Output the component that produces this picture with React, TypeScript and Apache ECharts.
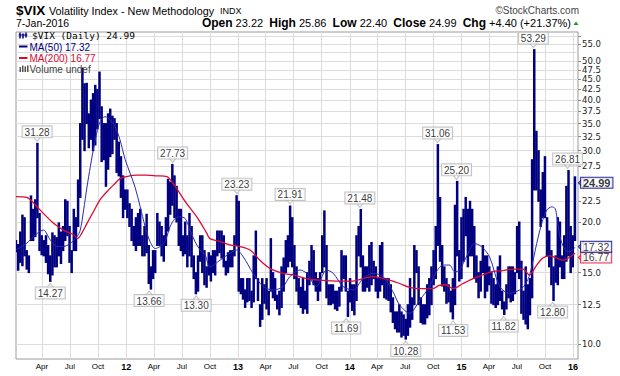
import React, { useEffect, useRef } from 'react';
import * as echarts from 'echarts';

// ---- weekly bars (Thursday of each week, from 2011-01-06) ----
const WEEK_START = '2011-01-06';
const high2011 = [18.0, 17.6, 18.9, 20.8, 20.5, 17.0, 16.5, 23.2, 21.5, 22.7, 31.28, 21.0, 18.5, 18.0, 18.5, 17.5, 16.5, 18.8, 18.5, 18.3, 19.9, 18.9, 19.5, 22.7, 22.5, 19.5, 17.0, 21.5, 20.5, 25.4, 35.0, 48.0, 43.9, 44.0, 37.0, 40.0, 41.5, 43.5, 42.5, 46.9, 38.5, 35.0, 35.0, 37.0, 38.0, 36.5, 36.0, 35.0, 31.5, 29.0, 26.0, 24.0];
const low2011 = [16.9, 15.2, 15.9, 15.6, 16.5, 15.3, 15.0, 18.0, 18.0, 18.4, 20.5, 17.0, 16.6, 16.5, 15.9, 14.9, 14.27, 14.8, 15.5, 15.5, 16.5, 15.8, 17.0, 18.0, 18.5, 15.9, 15.0, 17.0, 17.0, 19.5, 23.0, 32.0, 30.0, 35.0, 30.5, 32.0, 30.0, 31.0, 34.0, 36.0, 28.2, 28.5, 24.5, 27.0, 29.0, 29.5, 32.0, 26.5, 26.0, 23.0, 20.5, 21.5];
const high2012 = [24.0, 22.2, 21.5, 19.5, 20.5, 21.0, 21.5, 18.5, 19.5, 20.9, 17.5, 15.5, 17.0, 17.0, 21.0, 20.0, 19.5, 18.5, 20.5, 25.5, 25.1, 27.73, 26.0, 24.5, 21.5, 21.5, 18.5, 20.0, 18.5, 21.0, 19.5, 16.5, 15.0, 16.5, 18.5, 18.5, 17.0, 15.5, 16.8, 16.5, 17.0, 17.0, 19.0, 19.0, 19.0, 18.5, 16.0, 16.8, 17.0, 17.0, 18.5, 23.23];
const low2012 = [20.5, 19.5, 18.0, 17.5, 17.0, 17.5, 17.5, 16.5, 16.5, 16.8, 14.1, 13.66, 14.5, 15.0, 17.5, 17.5, 16.5, 16.0, 17.5, 19.0, 20.9, 22.0, 20.5, 20.0, 17.5, 17.0, 16.5, 16.7, 15.5, 16.5, 15.5, 14.5, 13.3, 13.5, 16.0, 15.0, 14.0, 13.8, 14.8, 14.3, 15.0, 14.8, 16.5, 16.8, 16.3, 15.5, 14.8, 15.0, 15.5, 15.5, 16.5, 17.5];
const high2013 = [22.5, 14.5, 14.5, 13.6, 14.5, 14.5, 13.5, 16.5, 19.0, 14.5, 12.5, 14.5, 14.0, 14.5, 13.5, 18.2, 15.0, 14.5, 13.2, 13.5, 15.5, 16.3, 18.0, 18.5, 21.91, 20.5, 17.5, 15.5, 14.5, 13.8, 14.5, 13.5, 15.0, 16.0, 17.5, 17.0, 15.0, 14.5, 15.0, 18.5, 21.3, 17.5, 14.0, 14.0, 14.0, 13.5, 13.5, 13.8, 17.0, 16.5, 16.5, 13.5];
const low2013 = [13.5, 13.3, 12.9, 12.3, 12.7, 12.8, 12.3, 12.7, 14.5, 12.8, 11.05, 11.5, 12.6, 12.2, 11.8, 13.5, 13.0, 12.8, 12.2, 11.8, 12.3, 13.5, 15.0, 15.5, 16.0, 15.5, 14.5, 13.5, 12.5, 12.3, 11.9, 12.2, 11.9, 14.0, 14.5, 14.0, 13.5, 12.8, 13.5, 15.0, 15.5, 13.0, 12.5, 12.5, 12.6, 12.2, 12.1, 12.4, 13.5, 14.5, 13.5, 11.69];
const high2014 = [14.5, 14.0, 14.0, 18.5, 19.5, 21.48, 16.5, 15.5, 15.5, 17.5, 17.8, 16.0, 15.5, 14.5, 17.5, 17.8, 14.5, 14.5, 14.5, 14.0, 13.0, 12.0, 12.0, 12.5, 12.0, 11.8, 11.5, 12.5, 14.5, 13.0, 17.5, 17.0, 15.5, 13.0, 12.5, 12.5, 14.0, 14.5, 15.5, 17.0, 19.5, 31.06, 23.0, 17.5, 15.5, 14.5, 14.0, 13.5, 14.5, 22.0, 25.2, 17.0];
const low2014 = [12.7, 12.1, 11.8, 12.8, 16.5, 15.5, 13.5, 13.5, 13.8, 13.5, 14.0, 14.5, 13.5, 13.0, 13.5, 14.0, 13.0, 12.9, 12.8, 12.0, 11.3, 10.9, 10.7, 10.7, 10.4, 10.5, 10.28, 10.5, 11.0, 11.5, 12.5, 15.0, 12.5, 11.3, 11.2, 11.2, 11.6, 11.8, 12.5, 14.0, 14.5, 17.5, 16.0, 13.9, 13.5, 12.6, 12.7, 12.0, 11.53, 12.5, 16.5, 14.3];
const high2015 = [20.5, 21.5, 23.0, 21.5, 22.5, 21.5, 19.5, 16.5, 15.0, 16.0, 17.5, 16.5, 16.5, 15.5, 15.0, 14.5, 14.0, 15.5, 16.5, 13.5, 12.7, 14.0, 15.5, 15.5, 15.5, 15.0, 19.5, 20.0, 16.0, 13.5, 15.5, 14.0, 14.5, 28.5, 53.29, 33.5, 30.0, 24.0, 26.5, 29.0, 20.5, 19.0, 17.0, 15.5, 16.5, 20.5, 20.0, 16.5, 18.5, 24.5, 26.81, 19.5];
const low2015 = [14.5, 16.0, 18.5, 15.5, 16.5, 16.5, 14.5, 14.2, 13.0, 13.5, 15.0, 13.0, 13.5, 14.0, 12.6, 12.5, 12.3, 12.5, 12.8, 12.2, 11.82, 12.2, 13.0, 12.7, 12.8, 13.3, 15.0, 14.5, 11.9, 11.5, 11.2, 10.9, 11.8, 13.0, 24.0, 24.0, 22.5, 19.5, 20.5, 20.5, 16.5, 15.5, 14.0, 12.8, 14.2, 14.0, 15.5, 14.5, 14.5, 16.0, 16.5, 15.0];
const high2016 = [18.5, 25.86];
const low2016 = [15.5, 18.0];

// ---- moving averages ----
const ma50: [string, number][] = [
  ['2011-01-06', 17.1], ['2011-02-05', 17.6], ['2011-03-16', 18.75], ['2011-04-06', 19.1], ['2011-04-28', 18.06],
  ['2011-05-20', 17.4], ['2011-06-10', 17.4], ['2011-07-02', 17.7], ['2011-07-24', 18.4], ['2011-08-04', 19.1],
  ['2011-08-15', 21.4], ['2011-08-26', 24.4], ['2011-09-06', 27.4], ['2011-09-22', 31.9], ['2011-10-08', 35.4],
  ['2011-10-24', 36.4], ['2011-11-10', 35.7], ['2011-11-26', 34.4], ['2011-12-12', 31.9], ['2011-12-29', 28.5],
  ['2012-01-14', 26.4], ['2012-01-30', 24.4], ['2012-02-16', 21.8], ['2012-03-03', 19.5], ['2012-03-19', 17.9],
  ['2012-04-05', 17.2], ['2012-04-21', 17.4], ['2012-05-07', 17.9], ['2012-05-24', 19.5], ['2012-06-09', 20.4],
  ['2012-06-25', 20.6], ['2012-07-12', 20.4], ['2012-07-28', 19.1], ['2012-08-13', 17.9], ['2012-08-30', 17.06],
  ['2012-09-15', 16.6], ['2012-10-01', 15.5], ['2012-11-03', 16.1], ['2012-12-05', 16.75], ['2012-12-27', 17.06],
  ['2013-01-18', 16.4], ['2013-02-19', 14.94], ['2013-03-24', 13.86], ['2013-04-26', 13.59], ['2013-05-28', 13.86],
  ['2013-06-19', 14.66], ['2013-07-22', 15.22], ['2013-08-13', 14.94], ['2013-09-14', 13.86], ['2013-10-17', 15.22],
  ['2013-11-08', 14.94], ['2013-12-10', 13.86], ['2014-01-12', 13.59], ['2014-02-13', 14.5], ['2014-03-18', 14.94],
  ['2014-04-20', 14.66], ['2014-05-22', 13.46], ['2014-06-13', 12.48], ['2014-07-16', 11.9], ['2014-08-18', 12.84],
  ['2014-09-19', 13.86], ['2014-10-11', 15.07], ['2014-11-02', 15.66], ['2014-11-23', 15.66], ['2014-12-10', 15.07],
  ['2014-12-26', 15.22], ['2015-01-17', 16.4], ['2015-02-13', 17.7], ['2015-03-07', 17.4], ['2015-04-03', 16.4],
  ['2015-05-06', 13.86], ['2015-06-07', 13.34], ['2015-07-10', 13.59], ['2015-07-28', 14.0], ['2015-08-13', 14.9],
  ['2015-09-04', 17.7], ['2015-09-21', 19.9], ['2015-10-07', 21.4], ['2015-10-23', 21.8], ['2015-11-03', 21.6],
  ['2015-11-09', 20.6], ['2015-11-19', 18.4], ['2015-12-06', 17.06], ['2015-12-22', 16.9], ['2016-01-07', 17.32],
];
const ma200: [string, number][] = [
  ['2011-01-06', 23.1], ['2011-02-10', 23.0], ['2011-02-22', 22.7], ['2011-03-26', 21.4], ['2011-05-09', 19.85],
  ['2011-06-10', 19.1], ['2011-07-13', 18.6], ['2011-07-26', 18.2], ['2011-08-06', 18.6], ['2011-08-26', 19.85],
  ['2011-09-16', 21.2], ['2011-10-08', 22.7], ['2011-10-30', 23.75], ['2011-11-21', 24.7], ['2011-12-12', 25.6],
  ['2012-01-03', 25.9], ['2012-02-05', 26.1], ['2012-03-08', 26.1], ['2012-04-10', 26.0], ['2012-05-13', 25.9],
  ['2012-06-03', 24.9], ['2012-06-25', 23.5], ['2012-07-17', 22.2], ['2012-08-19', 20.6], ['2012-09-20', 18.8],
  ['2012-10-01', 18.2], ['2012-11-03', 17.9], ['2012-12-05', 17.56], ['2013-01-07', 17.4], ['2013-02-09', 17.06],
  ['2013-03-13', 16.1], ['2013-04-15', 15.37], ['2013-05-28', 14.94], ['2013-06-30', 14.8], ['2013-08-13', 14.5],
  ['2013-09-25', 14.38], ['2013-11-29', 14.3], ['2014-01-12', 14.3], ['2014-02-13', 14.5], ['2014-03-18', 14.66],
  ['2014-04-20', 14.5], ['2014-05-22', 14.3], ['2014-06-13', 14.1], ['2014-07-16', 13.8], ['2014-08-18', 13.7],
  ['2014-09-30', 13.7], ['2014-10-20', 13.95], ['2014-11-10', 14.0], ['2014-12-05', 13.7], ['2015-01-06', 14.1],
  ['2015-02-08', 14.5], ['2015-03-12', 14.8], ['2015-04-14', 15.1], ['2015-05-16', 15.17], ['2015-06-18', 15.3],
  ['2015-07-21', 15.3], ['2015-08-11', 14.8], ['2015-09-04', 15.66], ['2015-09-24', 16.3], ['2015-10-16', 16.5],
  ['2015-11-07', 16.3], ['2015-11-28', 16.1], ['2015-12-22', 16.4], ['2016-01-07', 16.77],
];

// ---- labelled extremes ----
const peakDates = ['2011-03-16', '2011-04-28', '2012-03-16', '2012-06-01', '2012-08-17', '2012-12-28', '2013-06-20', '2013-12-20', '2014-02-03', '2014-07-03', '2014-10-15', '2014-12-05', '2014-12-16', '2015-05-19', '2015-08-24', '2015-10-26', '2015-12-14'];
const peakValues = [31.28, 14.27, 13.66, 27.73, 13.3, 23.23, 21.91, 11.69, 21.48, 10.28, 31.06, 11.53, 25.2, 11.82, 53.29, 12.8, 26.81];
const peakSides = ['top', 'bottom', 'bottom', 'top', 'bottom', 'top', 'top', 'bottom', 'top', 'bottom', 'top', 'bottom', 'top', 'bottom', 'top', 'bottom', 'top'];

// ---- axis ticks (25.0 and 17.5 sit under the value tags) ----
const yTickValues = [10, 12.5, 15, 17.5, 20, 22.5, 25, 27.5, 30, 32.5, 35, 37.5, 40, 42.5, 45, 47.5, 50, 52.5, 55, 57.5];
const yLabelValues = [10, 12.5, 15, 20, 22.5, 27.5, 30, 32.5, 35, 37.5, 40, 42.5, 45, 47.5, 50, 52.5, 55];
const monthNames = ['Jan', 'Feb', 'Mar', 'Apr', 'May', 'Jun', 'Jul', 'Aug', 'Sep', 'Oct', 'Nov', 'Dec'];
const lastClose = 24.99;
const lastMa50 = 17.32;
const lastMa200 = 16.77;
const LAST_DATE = '2016-01-07';

const ts = (s: string) => {
  const [y, m, d] = s.split('-').map(Number);
  return Date.UTC(y, m - 1, d);
};

const NAVY = '#000080';
const RED = '#dc0a32';

export default function App() {
  const ref = useRef<HTMLDivElement>(null);
  useEffect(() => {
    if (!ref.current) return;
    const chart = echarts.init(ref.current, null, { renderer: 'svg' });

    const highs = [...high2011, ...high2012, ...high2013, ...high2014, ...high2015, ...high2016];
    const lows = [...low2011, ...low2012, ...low2013, ...low2014, ...low2015, ...low2016];
    const t0 = ts(WEEK_START);
    const bars = highs.map((h, i) => [t0 + i * 7 * 86400000, lows[i], h]);

    const xMin = ts('2011-01-06');
    const xMax = ts('2016-01-17');
    const quarterTicks: number[] = [];
    for (let y = 2011; y <= 2016; y++) {
      for (const m of [0, 3, 6, 9]) {
        const t = Date.UTC(y, m, 1);
        if (t > xMin && t < xMax) quarterTicks.push(t);
      }
    }
    const lastT = ts(LAST_DATE);

    const peakData = peakDates.map((d, i) => ({
      value: [ts(d), peakValues[i]],
      label: { position: peakSides[i] },
    }));
    const ptrHigh = peakDates.map((d, i) => (peakSides[i] === 'top' ? [ts(d), peakValues[i]] : null)).filter(Boolean);
    const ptrLow = peakDates.map((d, i) => (peakSides[i] === 'bottom' ? [ts(d), peakValues[i]] : null)).filter(Boolean);

    const tagLabel = (color: string, bold: boolean, dy: number) => ({
      show: true,
      position: 'right',
      distance: 6,
      offset: [0, dy],
      formatter: (p: any) => p.value[1].toFixed(2),
      fontSize: bold ? 11 : 10.5,
      lineHeight: 10,
      fontWeight: bold ? 'bold' : 'normal',
      fontFamily: 'Arial',
      color: '#000',
      backgroundColor: '#fff',
      borderColor: color,
      borderWidth: 1,
      padding: [0, 2, 0, 2],
    });
    const arrow = (color: string, v: number, dy: number) => ({
      type: 'scatter',
      data: [[lastT, v]],
      symbol: 'path://M0,5L6,0L6,10Z',
      symbolSize: [5, 10],
      symbolOffset: [6, dy],
      itemStyle: { color: '#fff', borderColor: color, borderWidth: 1 },
      clip: false,
      silent: true,
      z: 5,
    });

    const G = 100;
    const option: any = {
      animation: false,
      backgroundColor: '#fff',
      grid: { left: 16, right: 42, top: 32, bottom: 17, show: true, borderColor: '#9a9a9a', borderWidth: 1 },
      xAxis: {
        type: 'value',
        min: xMin,
        max: xMax,
        axisLine: { show: false },
        axisTick: { show: false, customValues: quarterTicks },
        splitLine: { show: true, lineStyle: { color: '#dcdcdc', width: 1 } },
        axisLabel: {
          customValues: quarterTicks,
          margin: 3,
          fontSize: 8,
          fontFamily: 'Arial',
          color: '#000',
          formatter: (v: number) => {
            const d = new Date(v);
            const m = d.getUTCMonth();
            if (m === 0) return '{y|' + String(d.getUTCFullYear()).slice(2) + '}';
            return monthNames[m];
          },
          rich: { y: { fontSize: 9, fontWeight: 'bold', fontFamily: 'Arial', color: '#000' } },
        },
      },
      yAxis: {
        type: 'log',
        logBase: 10,
        position: 'right',
        min: 9.18,
        max: 58.9,
        axisLine: { show: false },
        axisTick: { show: true, customValues: yTickValues, length: 3, lineStyle: { color: '#888' } },
        splitLine: { show: true, lineStyle: { color: '#dcdcdc', width: 1 } },
        axisLabel: {
          customValues: yLabelValues,
          showMaxLabel: true,
          showMinLabel: true,
          formatter: (v: number) => v.toFixed(1),
          fontSize: 8.5,
          lineHeight: 8,
          fontFamily: 'DejaVu Sans',
          color: '#222',
          margin: 4,
        },
      },
      series: [
        {
          type: 'custom',
          name: 'VIX',
          data: bars,
          encode: { x: 0, y: [1, 2] },
          clip: true,
          renderItem: (params: any, api: any) => {
            const x = api.value(0);
            const p1 = api.coord([x, api.value(1)]);
            const p2 = api.coord([x, api.value(2)]);
            return {
              type: 'line',
              shape: { x1: p1[0], y1: p1[1] + 0.5, x2: p2[0], y2: p2[1] - 0.5 },
              style: { stroke: NAVY, lineWidth: 2.5 },
            };
          },
          z: 2,
        },
        {
          type: 'line',
          name: 'MA(200)',
          data: ma200.map(([d, v]) => [ts(d), v]),
          showSymbol: false,
          smooth: 0.3,
          lineStyle: { color: RED, width: 1.3 },
          z: 3,
        },
        {
          type: 'line',
          name: 'MA(50)',
          data: ma50.map(([d, v]) => [ts(d), v]),
          showSymbol: false,
          smooth: 0.3,
          lineStyle: { color: '#2a2ab0', width: 1 },
          z: 3,
        },
        {
          type: 'scatter',
          data: ptrHigh,
          symbol: 'path://M0,0L5,6L10,0Z',
          symbolSize: [8, 5],
          symbolOffset: [0, -4.5],
          itemStyle: { color: '#fff', borderColor: '#b4b4b4', borderWidth: 1 },
          silent: true,
          z: 4,
        },
        {
          type: 'scatter',
          data: ptrLow,
          symbol: 'path://M0,6L5,0L10,6Z',
          symbolSize: [8, 5],
          symbolOffset: [0, 4.5],
          itemStyle: { color: '#fff', borderColor: '#b4b4b4', borderWidth: 1 },
          silent: true,
          z: 4,
        },
        {
          type: 'scatter',
          data: peakData,
          symbolSize: 0,
          silent: true,
          z: 5,
          label: {
            show: true,
            distance: 6,
            formatter: (p: any) => p.value[1].toFixed(2),
            fontSize: 10,
            fontFamily: 'Arial',
            color: '#000',
            backgroundColor: '#fff',
            borderColor: '#b4b4b4',
            borderWidth: 1,
            padding: [1, 2, 0, 2],
          },
        },
        arrow(RED, lastMa200, 4.5),
        { type: 'scatter', data: [[lastT, lastMa200]], symbolSize: 0, silent: true, clip: false, z: 6, label: tagLabel(RED, false, 4.5) },
        arrow(NAVY, lastMa50, -0.5),
        { type: 'scatter', data: [[lastT, lastMa50]], symbolSize: 0, silent: true, clip: false, z: 7, label: tagLabel(NAVY, false, -0.5) },
        arrow(NAVY, lastClose, 0),
        { type: 'scatter', data: [[lastT, lastClose]], symbolSize: 0, silent: true, clip: false, z: 7, label: tagLabel(NAVY, true, 0) },
      ],
      graphic: [
        { type: 'text', z: G, x: 16, y: 10, style: { text: '$VIX', fontSize: 13.5, fontWeight: 'bold', fontFamily: 'Arial', fill: '#000', verticalAlign: 'middle' } },
        { type: 'text', z: G, x: 49, y: 10.5, style: { text: 'Volatility Index - New Methodology', fontSize: 10.8, fontFamily: 'Arial', fill: '#000', verticalAlign: 'middle' } },
        { type: 'text', z: G, x: 220, y: 11, style: { text: 'INDX', fontSize: 9, fontFamily: 'Arial', fill: '#000', verticalAlign: 'middle' } },
        { type: 'text', z: G, x: 16, y: 23, style: { text: '7-Jan-2016', fontSize: 10.5, fontFamily: 'Arial', fill: '#000', verticalAlign: 'middle' } },
        {
          type: 'text', z: G, x: 571, y: 23,
          style: {
            text: '{b|Open} 23.22  {b|High} 25.86  {b|Low} 22.40  {b|Close} 24.99  {b|Chg} +4.40 (+21.37%)',
            fontSize: 11, fontFamily: 'Arial', fill: '#000', align: 'right', verticalAlign: 'middle',
            rich: { b: { fontSize: 12, fontWeight: 'bold', fontFamily: 'Arial', fill: '#000' } },
          },
        },
        { type: 'polygon', z: G, shape: { points: [[573.5, 25], [578.5, 25], [576, 21.5]] }, style: { fill: '#1f9a1f' } },
        { type: 'text', z: G, x: 579, y: 10, style: { text: '\u00a9StockCharts.com', fontSize: 10, fontFamily: 'Arial', fill: '#444', align: 'right', verticalAlign: 'middle' } },
        // legend
        { type: 'line', z: G, shape: { x1: 20, y1: 32.5, x2: 20, y2: 38.5 }, style: { stroke: NAVY, lineWidth: 1.5 } },
        { type: 'line', z: G, shape: { x1: 23, y1: 33.5, x2: 23, y2: 38.5 }, style: { stroke: NAVY, lineWidth: 1.5 } },
        { type: 'line', z: G, shape: { x1: 26, y1: 32.5, x2: 26, y2: 37.5 }, style: { stroke: NAVY, lineWidth: 1.5 } },
        { type: 'line', z: G, shape: { x1: 18.5, y1: 35, x2: 27.5, y2: 35 }, style: { stroke: NAVY, lineWidth: 1 } },
        { type: 'text', z: G, x: 32, y: 35.5, style: { text: '$VIX (Daily) 24.99', fontSize: 9.5, fontFamily: 'DejaVu Sans Mono', fill: '#000', verticalAlign: 'middle' } },
        { type: 'line', z: G, shape: { x1: 19, y1: 46.5, x2: 27.5, y2: 46.5 }, style: { stroke: NAVY, lineWidth: 2 } },
        { type: 'text', z: G, x: 29.5, y: 47, style: { text: 'MA(50) 17.32', fontSize: 10, fontFamily: 'Arial', fill: NAVY, verticalAlign: 'middle' } },
        { type: 'line', z: G, shape: { x1: 19, y1: 58, x2: 27.5, y2: 58 }, style: { stroke: RED, lineWidth: 2 } },
        { type: 'text', z: G, x: 29.5, y: 58.5, style: { text: 'MA(200) 16.77', fontSize: 10, fontFamily: 'Arial', fill: RED, verticalAlign: 'middle' } },
        { type: 'rect', z: G, shape: { x: 19.5, y: 67, width: 1.5, height: 5 }, style: { fill: '#555' } },
        { type: 'rect', z: G, shape: { x: 22, y: 65.5, width: 1.5, height: 6.5 }, style: { fill: '#555' } },
        { type: 'rect', z: G, shape: { x: 24.5, y: 66.5, width: 1.5, height: 5.5 }, style: { fill: '#555' } },
        { type: 'rect', z: G, shape: { x: 27, y: 65.5, width: 1.5, height: 6.5 }, style: { fill: '#555' } },
        { type: 'text', z: G, x: 29.5, y: 69, style: { text: 'Volume undef', fontSize: 10, fontFamily: 'Arial', fill: '#444', verticalAlign: 'middle' } },
      ],
    };
    chart.setOption(option);
    return () => chart.dispose();
  }, []);
  return <div ref={ref} style={{ position: 'fixed', left: 0, top: 0, width: 620, height: 376, background: '#fff' }} />;
}
